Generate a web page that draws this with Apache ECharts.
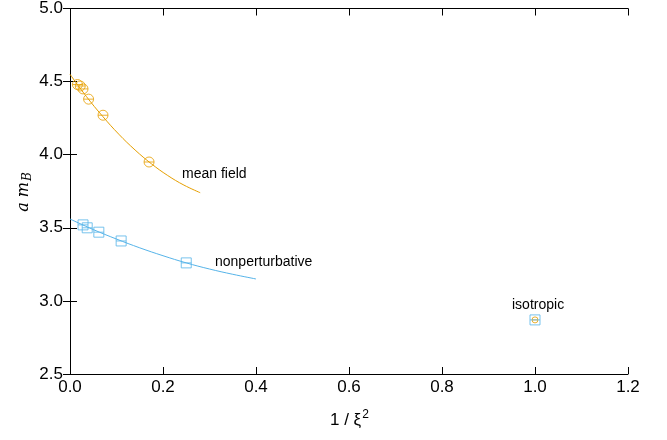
<!DOCTYPE html>
<html>
<head>
<meta charset="utf-8">
<script src="https://cdn.jsdelivr.net/npm/echarts@6/dist/echarts.min.js"></script>
<style>
  html, body { margin: 0; padding: 0; background: #fff; }
  #chart { width: 667px; height: 440px; }
</style>
</head>
<body>
<div id="chart"></div>
<script>
var meanX = [0.016, 0.022, 0.028, 0.040, 0.071, 0.170, 1.0];
var meanY = [4.48, 4.47, 4.45, 4.38, 4.27, 3.95, 2.87];
var npX = [0.028, 0.037, 0.062, 0.110, 0.250, 1.0];
var npY = [3.52, 3.50, 3.47, 3.41, 3.26, 2.87];

// fit curves
var meanFitX = [0, 0.035, 0.07, 0.105, 0.14, 0.175, 0.21, 0.245, 0.28];
var meanFitY = [4.550, 4.399, 4.263, 4.140, 4.032, 3.938, 3.858, 3.792, 3.740];
var npFitX = [0, 0.05, 0.10, 0.15, 0.20, 0.25, 0.30, 0.35, 0.40];
var npFitY = [3.560, 3.488, 3.423, 3.363, 3.309, 3.260, 3.218, 3.182, 3.150];

var xTicks = [0, 0.2, 0.4, 0.6, 0.8, 1.0, 1.2];
var yTicks = [2.5, 3.0, 3.5, 4.0, 4.5, 5.0];

var orange = '#e69f00';
var blue = '#56b4e9';
var font = 'Liberation Sans, Arial, sans-serif';

function zip(xs, ys) {
    return xs.map(function (x, i) { return [x, ys[i]]; });
}

var circleSym = 'path://M-5 0 A5 5 0 1 1 5 0 A5 5 0 1 1 -5 0 Z M-5 0 L5 0';
var squareSym = 'path://M-5 -5 L5 -5 L5 5 L-5 5 Z M-5 0 L5 0';

var axisCommon = {
    type: 'value',
    axisLine: { show: true, lineStyle: { color: '#000', width: 1 } },
    axisTick: { show: true, inside: true, length: 7, lineStyle: { color: '#000' } },
    splitLine: { show: false }
};

var chart = echarts.init(document.getElementById('chart'));
chart.setOption({
    animation: false,
    backgroundColor: '#fff',
    grid: { left: 70, right: 39, top: 8, bottom: 66 },
    xAxis: [
        Object.assign({}, axisCommon, {
            min: xTicks[0], max: xTicks[xTicks.length - 1], interval: 0.2,
            position: 'bottom',
            axisLabel: {
                color: '#000', fontSize: 17, fontFamily: font, margin: 5,
                formatter: function (v) { return v.toFixed(1); }
            }
        }),
        Object.assign({}, axisCommon, {
            min: xTicks[0], max: xTicks[xTicks.length - 1], interval: 0.2,
            position: 'top', axisLabel: { show: false }
        })
    ],
    yAxis: [
        Object.assign({}, axisCommon, {
            min: yTicks[0], max: yTicks[yTicks.length - 1], interval: 0.5,
            position: 'left',
            axisLabel: {
                color: '#000', fontSize: 17, fontFamily: font, margin: 7,
                formatter: function (v) { return v.toFixed(1); }
            }
        }),
        Object.assign({}, axisCommon, {
            min: yTicks[0], max: yTicks[yTicks.length - 1], interval: 0.5,
            position: 'right', axisLabel: { show: false }
        })
    ],
    graphic: [
        {
            type: 'text', left: 182, top: 167,
            style: { text: 'mean field', fill: '#000', font: '14px ' + font }
        },
        {
            type: 'text', left: 215, top: 255,
            style: { text: 'nonperturbative', fill: '#000', font: '14px ' + font }
        },
        {
            type: 'text', left: 512, top: 298,
            style: { text: 'isotropic', fill: '#000', font: '14px ' + font }
        },
        {
            type: 'text', x: 24, y: 192, rotation: Math.PI / 2,
            style: {
                text: '{i|a m}{s|B}',
                align: 'center', verticalAlign: 'middle',
                rich: {
                    i: { fontFamily: 'DejaVu Serif, serif', fontStyle: 'italic', fontSize: 16, fill: '#000' },
                    s: { fontFamily: 'DejaVu Serif, serif', fontStyle: 'italic', fontSize: 12, fill: '#000', padding: [8, 0, 0, 1] }
                }
            }
        },
        {
            type: 'text', left: 330, top: 409,
            style: {
                text: '{n|1 / ξ}{s|2}',
                rich: {
                    n: { fontFamily: font, fontSize: 17, fill: '#000' },
                    s: { fontFamily: font, fontSize: 12, fill: '#000', padding: [0, 0, 10, 1] }
                }
            }
        }
    ],
    series: [
        {
            type: 'line', smooth: 0.4, symbol: 'none',
            lineStyle: { color: orange, width: 1 },
            data: zip(meanFitX, meanFitY)
        },
        {
            type: 'line', smooth: 0.4, symbol: 'none',
            lineStyle: { color: blue, width: 1 },
            data: zip(npFitX, npFitY)
        },
        {
            type: 'scatter', symbol: circleSym, symbolSize: [10, 10],
            itemStyle: { color: 'rgba(0,0,0,0)', borderColor: orange, borderWidth: 1 },
            data: zip(meanX.slice(0, -1), meanY.slice(0, -1))
        },
        {
            type: 'scatter', symbol: circleSym, symbolSize: [6, 6],
            itemStyle: { color: 'rgba(0,0,0,0)', borderColor: orange, borderWidth: 1 },
            data: zip(meanX.slice(-1), meanY.slice(-1))
        },
        {
            type: 'scatter', symbol: squareSym, symbolSize: [10, 10],
            itemStyle: { color: 'rgba(0,0,0,0)', borderColor: blue, borderWidth: 1 },
            data: zip(npX, npY)
        }
    ]
});
</script>
</body>
</html>
